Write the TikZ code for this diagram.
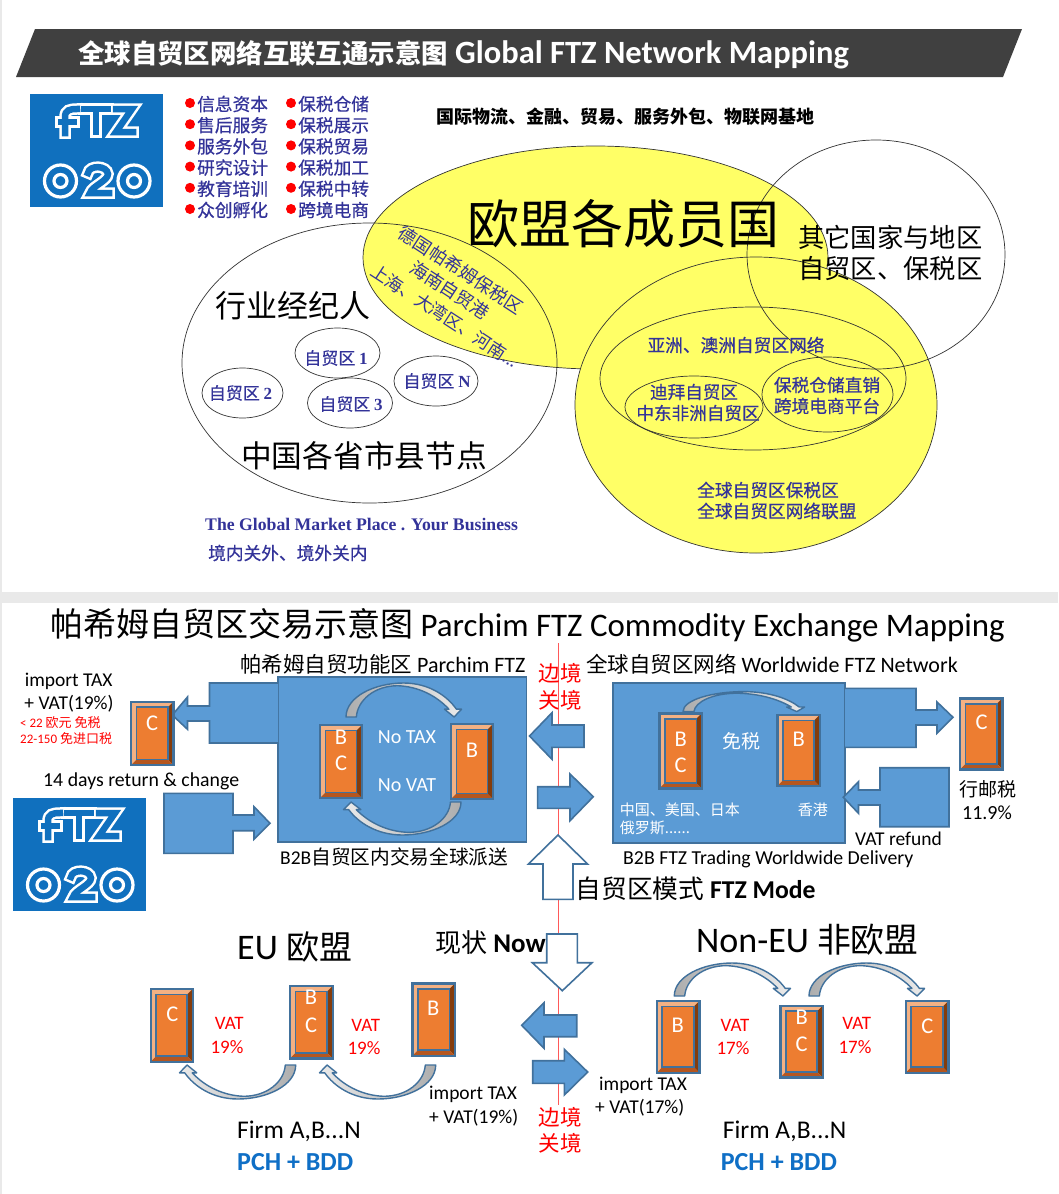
\documentclass[tikz,border=0pt]{standalone}
\usepackage{fontspec}
\setmainfont{Carlito}
\newfontfamily\cjk{Noto Sans CJK SC}
\newfontfamily\cjkm[FakeBold=0.5]{Noto Sans CJK SC}
\newfontfamily\serifb{Liberation Serif}
\usetikzlibrary{positioning}
\definecolor{logoblue}{HTML}{1070BE}
\definecolor{ftzblue}{HTML}{333399}
\definecolor{ftzyellow}{HTML}{FFFF66}
\definecolor{boxfill}{HTML}{5B9BD5}
\definecolor{boxline}{HTML}{41719C}
\definecolor{bandgray}{HTML}{E9E9E9}
\definecolor{bevorange}{HTML}{ED7D31}
\definecolor{bevlight}{HTML}{F4B183}
\definecolor{bevdark}{HTML}{843C0C}
\definecolor{bevmid}{HTML}{B5561F}
\definecolor{pchblue}{HTML}{0F6FC6}
\tikzset{zhtext/.style={inner sep=0pt,font=\cjk\fontsize{#1}{#1}\selectfont}}
\tikzset{entext/.style={inner sep=0pt,font=\fontsize{#1}{#1}\selectfont}}
\tikzset{bluezh/.style={zhtext=#1,text=ftzblue}}
\tikzset{blueb/.style={zhtext=#1,text=ftzblue,font=\cjkm\fontsize{#1}{#1}\selectfont}}
\tikzset{thinring/.style={draw=black!80,line width=0.7pt}}
\tikzset{blockarrow/.style={draw=boxline,line width=1.6pt,line join=miter,fill=boxfill}}
\tikzset{hollowarrow/.style={draw=boxline,line width=1.6pt,line join=miter,fill=white}}
\tikzset{bluebox/.style={draw=boxline,line width=1.6pt,fill=boxfill}}
\tikzset{boxletter/.style={entext=22.5,text=white}}
\tikzset{redtext/.style={entext=#1,text=red}}
\tikzset{bentstyle/.style={draw=boxline,line width=1.4pt,line join=round}}
\tikzset{logostroke/.style={line cap=rect,line join=miter,line width=#1}}
\newcommand{\bentpath}{(0,0) .. controls (0,60) and (25,100) .. (50,100)
        .. controls (72,100) and (88,62) .. (96,23) -- (100.5,23) -- (94,0) -- (85.6,23) -- (89.5,23)
        .. controls (78,65) and (62,90) .. (45,92) .. controls (25,92) and (10,50) .. (9,0) -- cycle}
\tikzset{bentarrow/.pic={\draw[bentstyle,left color=black!32,right color=black!8] \bentpath;}}
\tikzset{bentflip/.pic={\draw[bentstyle,left color=black!8,right color=black!32] \bentpath;}}
\tikzset{pics/bevel/.style 2 args={code={
    \fill[bevlight] (0,0) -- (#1,0) -- (#1-5.5,5.5) -- (5.5,5.5) -- (5.5,#2-5.5) -- (0,#2) -- cycle;
    \fill[bevdark] (#1,0) -- (#1,#2) -- (#1-5.5,#2-5.5) -- (#1-5.5,5.5) -- cycle;
    \fill[bevmid] (0,#2) -- (#1,#2) -- (#1-5.5,#2-5.5) -- (5.5,#2-5.5) -- cycle;
    \draw[boxline,line width=1.6pt,fill=bevorange] (5.5,5.5) rectangle (#1-5.5,#2-5.5);
    \draw[boxline,line width=2.4pt] (0,0) rectangle (#1,#2);
}}}
\tikzset{ftzlogo/.pic={
    \fill[logoblue] (0,0) rectangle (133,113);
    \foreach \w/\c in {11.5pt/white,6.5pt/logoblue}{
        \draw[logostroke=\w,\c] (35,39) -- (35,23) .. controls (35,16) and (40,15) .. (47,15);
        \draw[logostroke=\w,\c] (31,28) -- (44,28);
        \draw[logostroke=\w,\c] (54,15) -- (78,15);
        \draw[logostroke=\w,\c] (66,15) -- (66,38);
        \draw[logostroke=\w,\c] (86,15) -- (102,15) -- (86,38) -- (103,38);
        \draw[logostroke=\w,\c] (58,79) .. controls (59,71) and (77,71) .. (78,80) .. controls (78,87) and (62,92) .. (60,99) -- (79,99);
    }
    \foreach \cx in {30.5,104}{
        \draw[white,line width=3.2pt] (\cx,87) circle (16);
        \draw[white,line width=3.2pt] (\cx,87) circle (6.5);
    }
}}
\begin{document}
\begin{tikzpicture}[x=1pt,y=-1pt]
    \useasboundingbox (0,0) rectangle (1058,1194);
    \fill[white] (0,0) rectangle (1058,1194);
    % gray edges of the two slides
    \fill[bandgray] (0,0) rectangle (2,1194);
    \fill[bandgray] (0,592) rectangle (1058,603);

    % top slide: banner
    \fill[black!75] (35,29) -- (1022,29) -- (1003,77) -- (16,77) -- cycle;
    \node[anchor=west,entext=32.5,text=white,font=\bfseries\fontsize{32.5}{32.5}\selectfont] (banner) at (78,55) {{\cjk\fontsize{26.4}{26.4}\selectfont 全球自贸区网络互联互通示意图} Global FTZ Network Mapping};
    \pic at (30,94) {ftzlogo};

    % bullet lists
    \foreach \txt [count=\i] in {信息资本,售后服务,服务外包,研究设计,教育培训,众创孵化}{
        \fill[red] (190,{103+21.2*(\i-1)}) circle (5);
        \node[anchor=west,blueb=17.7] (lista\i) at (197,{104+21.2*(\i-1)}) {\txt};
    }
    \foreach \txt [count=\i] in {保税仓储,保税展示,保税贸易,保税加工,保税中转,跨境电商}{
        \fill[red] (291,{103+21.2*(\i-1)}) circle (5);
        \node[anchor=west,blueb=17.7] (listb\i) at (298,{104+21.2*(\i-1)}) {\txt};
    }
    \node[anchor=west,zhtext=18,font=\cjk\bfseries\fontsize{18}{18}\selectfont] (basis) at (436,117) {国际物流、金融、贸易、服务外包、物联网基地};

    % the big ellipses
    \draw[thinring,fill=ftzyellow] (595.5,257.5) ellipse (232.5 and 111.5);
    \draw[thinring,fill=ftzyellow] (756,405) ellipse (181 and 148);
    \draw[thinring] (369.5,363) ellipse (187.5 and 140);
    \draw[thinring] (876,254.5) ellipse (129 and 114.5);
    \draw[thinring] (753,378.5) ellipse (153 and 71.5);
    \draw[thinring] (694,407) ellipse (69 and 31);
    \draw[thinring] (827.5,394.5) ellipse (65.5 and 37.5);
    \draw[thinring] (337.5,353) ellipse (42.5 and 25);
    \draw[thinring] (242.5,393) ellipse (40.5 and 25);
    \draw[thinring] (350,403) ellipse (42.5 and 25);
    \draw[thinring] (436,381) ellipse (42 and 25);

    % labels of the ellipses
    \node[zhtext=52] (eu) at (623,224) {欧盟各成员国};
    \node[anchor=west,zhtext=26.3] (other1) at (798,237) {其它国家与地区};
    \node[anchor=west,zhtext=26.3] (other2) at (798,269) {自贸区、保税区};
    \node[zhtext=31] (broker) at (293,306) {行业经纪人};
    \node[zhtext=30.7] (china) at (364,456) {中国各省市县节点};
    \node[blueb=17] (zone1) at (336,358) {自贸区 {\serifb\bfseries 1}};
    \node[blueb=17] (zone2) at (240.5,393) {自贸区 {\serifb\bfseries 2}};
    \node[blueb=17] (zone3) at (351,404) {自贸区 {\serifb\bfseries 3}};
    \node[blueb=17] (zonen) at (437,381) {自贸区 {\serifb\bfseries N}};
    \node[bluezh=18,rotate=-33] (parchim) at (461,270) {德国帕希姆保税区};
    \node[bluezh=18,rotate=-33] (hainan) at (450,290) {海南自贸港};
    \node[bluezh=17.5,rotate=-33] (shanghai) at (445,316) {上海、大湾区、河南...};
    \node[blueb=17.7] (asia) at (736,345) {亚洲、澳洲自贸区网络};
    \node[blueb=17.6] (dubai) at (694,392) {迪拜自贸区};
    \node[blueb=17.6] (mideast) at (698,413) {中东非洲自贸区};
    \node[blueb=17.7] (bonded) at (827,385) {保税仓储直销};
    \node[blueb=17.7] (ecom) at (827,406) {跨境电商平台};
    \node[anchor=west,blueb=17.7] (glob1) at (697,490) {全球自贸区保税区};
    \node[anchor=west,blueb=17.7] (glob2) at (697,511) {全球自贸区网络联盟};
    \node[anchor=west,entext=17.7,text=ftzblue,font=\serifb\bfseries\fontsize{17.7}{17.7}\selectfont] (market) at (205,524) {The Global Market Place . Your Business};
    \node[anchor=west,blueb=17.7] (inside) at (208,553) {境内关外、境外关内};

    % bottom slide: title and border line
    \node[anchor=west,entext=33,font=\fontsize{32.9}{33}\selectfont] (title) at (50,625) {{\cjk\fontsize{33}{33}\selectfont 帕希姆自贸区交易示意图} Parchim FTZ Commodity Exchange Mapping};
    \draw[red!65,line width=1pt] (558,643) -- (558,1105);
    \pic at (13,798) {ftzlogo};

    % the two blue zones
    \draw[bluebox] (278,677) rectangle (526.5,842);
    \draw[bluebox] (613,683) rectangle (845,843);

    % block arrows
    \draw[blockarrow] (278,683) -- (209.5,683) -- (209.5,706) -- (187.5,706) -- (187.5,697) -- (172.3,715) -- (187.5,729.3) -- (187.5,721) -- (209.5,721) -- (209.5,743) -- (278,743);
    \draw[blockarrow] (164,793.3) -- (233,793.3) -- (233,815) -- (254,815) -- (254,806.7) -- (270,823.3) -- (254,839.3) -- (254,830.7) -- (233,830.7) -- (233,853.3) -- (164,853.3) -- cycle;
    \draw[blockarrow] (584,725) -- (552,725) -- (552,712.7) -- (529.5,736) -- (552,759.3) -- (552,747.3) -- (584,747.3) -- cycle;
    \draw[blockarrow] (537.6,786.7) -- (570,786.7) -- (570,774) -- (593.3,796.7) -- (570,820.7) -- (570,808.3) -- (537.6,808.3) -- cycle;
    \draw[blockarrow] (845,688.3) -- (916,688.3) -- (916,710) -- (937,710) -- (937,702) -- (953,717.3) -- (937,733.3) -- (937,725) -- (916,725) -- (916,747.3) -- (845,747.3);
    \draw[blockarrow] (949,767.7) -- (880,767.7) -- (880,790) -- (858.5,790) -- (858.5,781.7) -- (843.3,797.3) -- (858.5,813.3) -- (858.5,805) -- (880,805) -- (880,826.7) -- (949,826.7) -- cycle;
    \draw[blockarrow] (576.7,1015) -- (544,1015) -- (544,1002.7) -- (521.7,1025.3) -- (544,1048.3) -- (544,1036.7) -- (576.7,1036.7) -- cycle;
    \draw[blockarrow] (532.7,1060.7) -- (564.3,1060.7) -- (564.3,1049.3) -- (587.7,1072) -- (564.3,1095) -- (564.3,1083.3) -- (532.7,1083.3) -- cycle;
    \draw[hollowarrow] (558,835) -- (587.6,864) -- (573,864) -- (573,899.3) -- (543,899.3) -- (543,864) -- (528.4,864) -- cycle;
    \draw[hollowarrow] (546.7,934) -- (577.3,934) -- (577.3,962.7) -- (592,962.7) -- (562.3,990.7) -- (532.3,962.7) -- (546.7,962.7) -- cycle;

    % orange boxes
    \pic at (131,701.7) {bevel={42.3}{63.3}};
    \pic at (320,725) {bevel={42}{73}};
    \pic at (451,724) {bevel={42}{75}};
    \pic at (659.5,713.3) {bevel={42.3}{75}};
    \pic at (777.4,715) {bevel={42.3}{71}};
    \pic at (960,698.3) {bevel={42.4}{71}};
    \pic at (150.7,989) {bevel={42}{72.7}};
    \pic at (290,986) {bevel={42.7}{72.3}};
    \pic at (412.3,983.3) {bevel={42.7}{72.4}};
    \pic at (656.7,1001) {bevel={42.6}{71.7}};
    \pic at (780.3,1005.7) {bevel={42.4}{71.6}};
    \pic at (905.7,1001) {bevel={42.6}{71.7}};

    % curved arrows
    \pic[xscale=1.15,yscale=-0.34] at (346,717) {bentarrow};
    \pic[xscale=-1.17,yscale=0.33] at (461,802) {bentflip};
    \pic[xscale=1.21,yscale=-0.20] at (683,711.6) {bentarrow};
    \pic[xscale=-1.156,yscale=0.34] at (295.7,1065) {bentflip};
    \pic[xscale=-1.156,yscale=0.34] at (435.7,1065) {bentflip};
    \pic[xscale=1.156,yscale=-0.33] at (674.3,996) {bentarrow};
    \pic[xscale=1.15,yscale=-0.33] at (809,996) {bentarrow};

    % letters on the boxes
    \node[boxletter] (c1) at (152,723) {C};
    \node[boxletter] (b2) at (341,737) {B};
    \node[boxletter] (c2) at (341,763) {C};
    \node[boxletter] (b3) at (472,750) {B};
    \node[boxletter] (b4) at (680.7,739) {B};
    \node[boxletter] (c4) at (680.7,765) {C};
    \node[boxletter] (b5) at (798.7,739) {B};
    \node[boxletter] (c6) at (981.5,722.7) {C};
    \node[boxletter] (c7) at (172.3,1014) {C};
    \node[boxletter] (b8) at (311,997.7) {B};
    \node[boxletter] (c8) at (311,1025) {C};
    \node[boxletter] (b9) at (433.3,1008.3) {B};
    \node[boxletter] (b10) at (677.7,1025.7) {B};
    \node[boxletter] (b11) at (801.7,1017.7) {B};
    \node[boxletter] (c11) at (801.7,1044) {C};
    \node[boxletter] (c12) at (927.3,1026) {C};

    % texts around the zones
    \node[anchor=west,entext=22] (pzone) at (240,664) {{\cjk\fontsize{21.5}{21.5}\selectfont 帕希姆自贸功能区} Parchim FTZ};
    \node[anchor=west,entext=22] (wzone) at (586,664) {{\cjk\fontsize{21.5}{21.5}\selectfont 全球自贸区网络} Worldwide FTZ Network};
    \node[entext=19.5] (imp1) at (68.7,681) {import TAX};
    \node[entext=19.5] (vat1) at (69,704) {+ VAT(19\%)};
    \node[anchor=west,redtext=13] (low1) at (20,723) {< 22 {\cjk 欧元 免税}};
    \node[anchor=west,redtext=13] (low2) at (20,739) {22-150 {\cjk 免进口税}};
    \node[anchor=west,entext=19.8] (ret) at (43,781) {14 days return \& change};
    \node[entext=20,text=white] (notax) at (407,737) {No TAX};
    \node[entext=20,text=white] (novat) at (407,785) {No VAT};
    \node[anchor=west,entext=19.5] (pdeliv) at (280,857) {B2B{\cjk\fontsize{19.7}{19.7}\selectfont 自贸区内交易全球派送}};
    \node[zhtext=19,text=white] (free) at (741,741.7) {免税};
    \node[anchor=west,zhtext=15,text=white] (cn) at (619.7,810) {中国、美国、日本};
    \node[anchor=west,zhtext=15,text=white] (ru) at (619.7,828) {俄罗斯......};
    \node[anchor=west,zhtext=15,text=white] (hk) at (797.7,810) {香港};
    \node[zhtext=19] (post) at (987.6,789) {行邮税};
    \node[entext=20] (rate) at (987,813) {11.9\%};
    \node[anchor=west,entext=19.5] (refund) at (855,839) {VAT refund};
    \node[anchor=west,entext=19.8] (wdeliv) at (623,859) {B2B FTZ Trading Worldwide Delivery};
    \node[anchor=west,entext=25.7,font=\bfseries\fontsize{25.7}{25.7}\selectfont] (mode) at (575.5,889) {{\cjk\mdseries 自贸区模式} FTZ Mode};
    \node[anchor=west,entext=27,font=\bfseries\fontsize{27}{27}\selectfont] (now) at (435,943) {{\cjk\mdseries\fontsize{26}{26}\selectfont 现状} Now};
    \node[redtext=21.5,font=\cjk\fontsize{21.5}{21.5}\selectfont] (bord1) at (560,673) {边境};
    \node[redtext=21.5,font=\cjk\fontsize{21.5}{21.5}\selectfont] (bord2) at (560,700) {关境};
    \node[redtext=21.5,font=\cjk\fontsize{21.5}{21.5}\selectfont] (bord3) at (560,1117) {边境};
    \node[redtext=21.5,font=\cjk\fontsize{21.5}{21.5}\selectfont] (bord4) at (560,1143) {关境};

    % EU and non-EU rows
    \node[anchor=west,entext=36] (eutitle) at (237,947) {EU {\cjk\fontsize{33}{33}\selectfont 欧盟}};
    \node[anchor=west,entext=36] (noneu) at (696,940) {Non-EU {\cjk\fontsize{33.8}{33.8}\selectfont 非欧盟}};
    \node[redtext=19] (vat2) at (229.3,1023) {VAT};
    \node[redtext=19] (pct2) at (227,1047) {19\%};
    \node[redtext=19] (vat3) at (365.7,1025) {VAT};
    \node[redtext=19] (pct3) at (364,1048) {19\%};
    \node[redtext=19] (vat4) at (735,1025) {VAT};
    \node[redtext=19] (pct4) at (733,1048) {17\%};
    \node[redtext=19] (vat5) at (856.7,1023.3) {VAT};
    \node[redtext=19] (pct5) at (855,1047) {17\%};
    \node[anchor=west,entext=19.5] (imp2) at (429,1094) {import TAX};
    \node[anchor=west,entext=19.5] (vat6) at (429,1118) {+ VAT(19\%)};
    \node[anchor=west,entext=19.5] (imp3) at (599,1085) {import TAX};
    \node[anchor=west,entext=19.5] (vat7) at (595,1108) {+ VAT(17\%)};
    \node[anchor=west,entext=25.5] (firm1) at (237,1131) {Firm A,B...N};
    \node[anchor=west,entext=26,text=pchblue,font=\bfseries\fontsize{26}{26}\selectfont] (pch1) at (237,1162) {PCH + BDD};
    \node[anchor=west,entext=25.5] (firm2) at (722.7,1131) {Firm A,B...N};
    \node[anchor=west,entext=26,text=pchblue,font=\bfseries\fontsize{26}{26}\selectfont] (pch2) at (720.7,1162) {PCH + BDD};
\end{tikzpicture}
\end{document}
